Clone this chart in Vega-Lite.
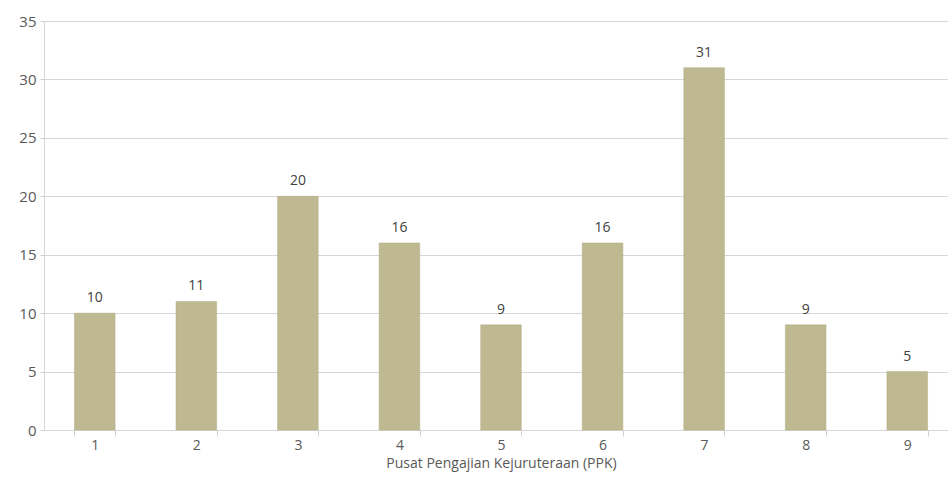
{
  "$schema": "https://vega.github.io/schema/vega-lite/v6.json",
  "autosize": {"type": "none"},
  "padding": {"left": 44, "top": 21, "right": 0, "bottom": 47},
  "width": 914,
  "height": 409,
  "background": "white",
  "data": {"values": [
    {"ppk": "1", "count": 10},
    {"ppk": "2", "count": 11},
    {"ppk": "3", "count": 20},
    {"ppk": "4", "count": 16},
    {"ppk": "5", "count": 9},
    {"ppk": "6", "count": 16},
    {"ppk": "7", "count": 31},
    {"ppk": "8", "count": 9},
    {"ppk": "9", "count": 5}
  ]},
  "config": {
    "view": {"stroke": null},
    "font": "Open Sans"
  },
  "encoding": {
    "x": {
      "field": "ppk", "type": "ordinal",
      "scale": {"paddingInner": 0.6, "paddingOuter": 0.3},
      "axis": {
        "title": "Pusat Pengajian Kejuruteraan (PPK)",
        "titleFont": "Open Sans", "titleFontSize": 14, "titleFontWeight": "normal", "titleColor": "#595959", "titlePadding": 4,
        "labelAngle": 0, "labelFontSize": 14, "labelColor": "#595959", "labelPadding": 2,
        "tickBand": "extent", "tickColor": "#d0d0d0", "tickSize": 6,
        "domain": false
      }
    },
    "y": {
      "field": "count", "type": "quantitative",
      "scale": {"domain": [0, 35]},
      "axis": {
        "title": null, "values": [0,5,10,15,20,25,30,35],
        "labelFontSize": 15, "labelColor": "#595959", "labelPadding": 4,
        "tickSize": 4, "tickColor": "#d0d0d0",
        "gridColor": "#d6d6d6", "domainColor": "#d6d6d6"
      }
    }
  },
  "layer": [
    {"mark": {"type": "bar", "color": "#beb990", "stroke": "#b0aa82", "strokeWidth": 0.5}},
    {"mark": {"type": "text", "dy": -15, "fontSize": 14, "color": "#404040"},
     "encoding": {"text": {"field": "count", "type": "quantitative"}}}
  ]
}
